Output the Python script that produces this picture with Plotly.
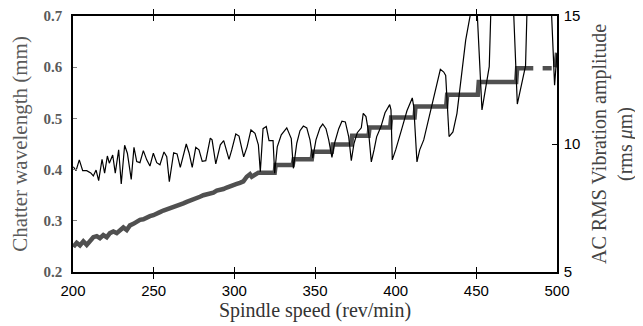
import plotly.graph_objects as go

# Chatter wavelength (left axis, mm) - thick gray line
wl_speed = [200.2, 202.3, 204.3, 206.4, 208.5, 210.5, 212.6, 214.7, 216.7, 218.8, 220.9,
            222.9, 225.0, 227.1, 229.1, 231.2, 233.3, 235.3, 237.4, 239.5, 241.5, 243.6,
            245.7, 247.7, 249.8, 251.9, 253.9, 256.0, 258.1, 260.1, 262.2, 264.3, 266.3,
            268.4, 270.5, 272.5, 274.6, 276.7, 278.7, 280.8, 282.9, 284.9, 287.0, 289.1,
            291.1, 293.2, 295.3, 297.3, 299.4, 301.5, 303.5, 305.6, 307.7, 309.7, 310.8,
            312.8, 314.9,
            325.0, 325.6, 336.2, 336.8, 348.0, 348.6, 360.4, 361.0, 372.4, 373.0,
            383.2, 383.8, 396.6, 397.2, 411.7, 412.3, 431.3, 431.9, 450.9, 451.5,
            474.7, 475.3, 485.3, 485.4, 491.1, 496.7, 496.8, 499.0, 500.0]
wl_value = [0.249, 0.257, 0.252, 0.260, 0.253, 0.261, 0.268, 0.270, 0.266, 0.272, 0.268,
            0.276, 0.279, 0.276, 0.282, 0.287, 0.282, 0.291, 0.294, 0.298, 0.302, 0.303,
            0.307, 0.309, 0.311, 0.315, 0.317, 0.320, 0.322, 0.324, 0.328, 0.329, 0.331,
            0.334, 0.337, 0.339, 0.342, 0.343, 0.347, 0.350, 0.351, 0.354, 0.355, 0.359,
            0.360, 0.362, 0.365, 0.368, 0.371, 0.372, 0.374, 0.377, 0.386, 0.391, 0.386,
            0.391, 0.394,
            0.394, 0.409, 0.409, 0.420, 0.420, 0.435, 0.435, 0.449, 0.449, 0.466,
            0.466, 0.482, 0.482, 0.502, 0.502, 0.523, 0.523, 0.546, 0.546, 0.571,
            0.571, 0.598, 0.598, None, 0.598, 0.598, None, 0.600, 0.628]

# AC RMS vibration amplitude (right axis, rms um) - thin black line
amp_speed = [200.2, 201.9, 203.9, 206.0, 208.5, 211.0, 212.6, 214.3, 215.9, 218.0, 219.6,
             221.3, 222.5, 224.6, 226.2, 228.3, 229.9, 232.0, 233.7, 236.1, 237.8, 239.5,
             241.5, 243.6, 245.7, 247.7, 249.8, 251.9, 253.9, 256.4, 258.1, 259.7, 262.4,
             264.5, 266.5, 270.2, 271.9, 273.9, 276.1, 278.1, 280.1, 282.3, 285.1, 286.2,
             288.5, 291.3, 293.4, 295.5, 296.7, 298.4, 300.9, 302.9, 305.8, 307.9, 310.3,
             312.8, 314.9, 316.1, 317.8, 319.8, 321.5, 324.0, 325.0, 326.6, 329.1, 332.5,
             334.1, 335.3, 336.6, 338.7, 340.7, 342.8, 344.9, 346.9, 348.6, 350.6, 353.1,
             354.8, 356.8, 358.5, 360.5, 362.2, 364.7, 366.7, 368.8, 370.9, 372.5, 374.2,
             376.2, 378.7, 379.9, 381.6, 383.3, 384.9, 386.6, 388.2, 390.9, 393.4, 396.3,
             397.1, 397.9, 400.0, 403.7, 407.0, 410.3, 411.2, 413.2, 414.9, 417.4, 420.2,
             424.0, 427.7, 429.8, 431.0, 433.1, 435.5, 438.0, 440.5, 443.4, 445.6, 449.7,
             453.5, 458.0, 458.9, 461.0, 471.0, 475.4, 480.5, 481.1, 483.0, 494.0, 498.5,
             500.0]
amp_value = [9.11, 8.96, 9.38, 8.96, 8.96, 8.87, 8.75, 8.98, 8.57, 9.40, 8.86,
             9.53, 9.25, 9.57, 8.86, 9.77, 8.44, 9.95, 9.64, 8.62, 9.87, 9.31,
             9.27, 9.74, 9.38, 9.14, 9.64, 9.27, 9.19, 9.69, 9.50, 8.53, 9.66,
             9.61, 9.09, 10.00, 9.66, 9.09, 9.87, 9.77, 9.32, 9.35, 10.23, 10.16,
             9.22, 9.97, 10.13, 9.69, 9.40, 9.77, 10.39, 10.31, 9.50, 9.89, 10.55,
             10.42, 9.97, 8.92, 10.60, 10.68, 10.13, 10.13, 8.86, 9.89, 10.36, 10.63,
             10.36, 10.21, 9.05, 10.03, 10.52, 10.70, 10.63, 10.16, 9.45, 10.16, 10.63,
             10.78, 10.60, 10.16, 9.48, 10.05, 10.60, 10.89, 10.86, 10.28, 9.35, 10.03,
             10.44, 10.63, 11.20, 11.07, 10.42, 9.30, 9.77, 10.28, 10.68, 11.22, 11.54,
             11.33, 9.38, 9.77, 10.57, 11.30, 11.80, 11.46, 9.30, 9.77, 10.16, 10.94,
             11.98, 12.92, 12.81, 12.68, 10.29, 10.47, 11.20, 12.50, 14.06, 14.82, 16.20,
             11.33, 13.02, 14.97, 19.00, 18.50, 11.56, 13.05, 14.97, 19.00, 19.00, 12.30,
             13.54]

x_ticks = [200, 250, 300, 350, 400, 450, 500]
left_ticks = [0.2, 0.3, 0.4, 0.5, 0.6, 0.7]
right_ticks = [5, 10, 15]

SERIF = "Liberation Serif, Times New Roman, serif"
SANS = "Liberation Sans, Arial, sans-serif"

fig = go.Figure()
fig.add_trace(go.Scatter(x=wl_speed, y=wl_value, mode="lines", yaxis="y",
                         line=dict(color="#505050", width=4.5), connectgaps=False,
                         name="Chatter wavelength", showlegend=False))
fig.add_trace(go.Scatter(x=amp_speed, y=amp_value, mode="lines", yaxis="y2",
                         line=dict(color="black", width=1.2),
                         name="AC RMS vibration amplitude", showlegend=False))

# page body has an 8px margin, so the figure is sized to fill the rest of the window
fig.update_layout(
    width=635, height=318,
    margin=dict(l=65, r=85.5, t=8, b=54),
    paper_bgcolor="white", plot_bgcolor="white",
    xaxis=dict(range=[200, 500], tickvals=x_ticks, ticks="inside", ticklen=5,
               tickcolor="black", showline=True, linecolor="black", linewidth=1.5,
               mirror="allticks", showgrid=False, zeroline=False, automargin=False,
               ticklabeloverflow="allow",
               tickfont=dict(family=SANS, size=15, color="black"),
               ticklabelstandoff=4,
               title=dict(text="Spindle speed (rev/min)", standoff=2,
                          font=dict(family=SERIF, size=20, color="#333333"))),
    yaxis=dict(range=[0.2, 0.7], tickvals=left_ticks, tickformat=".1f", ticks="inside",
               ticklen=4, tickcolor="#808080", showline=True, linecolor="black", linewidth=1.5,
               showgrid=False, zeroline=False, automargin=False,
               ticklabeloverflow="allow",
               tickfont=dict(family=SERIF, size=15, color="#5a5a5a", weight="bold"),
               ticklabelstandoff=6,
               title=dict(text="Chatter wavelength (mm)", standoff=10,
                          font=dict(family=SERIF, size=21, color="#5a5a5a"))),
    yaxis2=dict(range=[5, 15], tickvals=right_ticks, ticks="inside", ticklen=5,
                tickcolor="black", overlaying="y", side="right", showline=True,
                linecolor="black", linewidth=1.5, showgrid=False, zeroline=False,
                automargin=False, ticklabeloverflow="allow",
                tickfont=dict(family=SANS, size=15, color="black"),
                ticklabelstandoff=2,
                title=dict(text="AC RMS Vibration amplitude<br>(rms <i>μ</i>m)", standoff=13,
                           font=dict(family=SERIF, size=20, color="#444444"))),
)

fig.write_html("out.html")
